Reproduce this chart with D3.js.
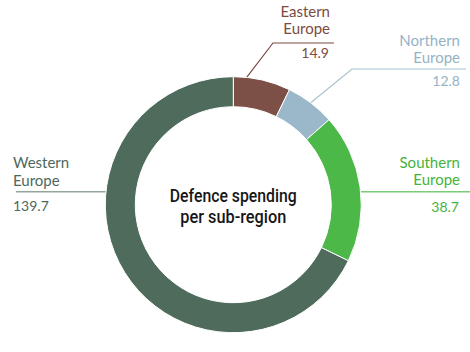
<!DOCTYPE html>
<html>
<head>
<meta charset="utf-8">
<script src="https://cdn.jsdelivr.net/npm/d3@7"></script>
<style>
  html, body { margin: 0; padding: 0; background: #fff; }
  svg { display: block; }
  .lbl { font-family: "Lato", "Liberation Sans", sans-serif; font-size: 15px; }
  .val { font-family: "Lato", "Liberation Sans", sans-serif; font-size: 14px; }
  .center { font-family: "Roboto", "Liberation Sans", sans-serif; font-size: 18.5px; font-weight: 500; fill: #161616; }
</style>
</head>
<body>
<svg id="chart" width="470" height="352"></svg>
<script>
// ---- data ----
const categories = ["Eastern Europe", "Northern Europe", "Southern Europe", "Western Europe"];
const values = [14.9, 12.8, 38.7, 139.7];
const valueLabels = ["14.9", "12.8", "38.7", "139.7"];
const sliceColors = ["#7c4f47", "#9bb8ca", "#4cb848", "#4e6b5c"];
const textColors = ["#7a4b42", "#95b3c6", "#45b341", "#4d695c"];
const lineColors = ["#7a4b42", "#a9c2d1", "#7ccb78", "#93a69c"];
const centerTitle = ["Defence spending", "per sub-region"];

// ---- layout ----
const svg = d3.select("#chart");
const cx = 233.3, cy = 204.7, rOuter = 128, rInner = 98;

const pie = d3.pie().sort(null).value(d => d)
  .startAngle(0).endAngle(2 * Math.PI);
const arcs = pie(values);
const arc = d3.arc().innerRadius(rInner).outerRadius(rOuter);

const layouts = [
  { anchor: "end", x: 330, y1: 17, y2: 34, vy: 58, vx: 329, ruleY: 43, ruleX1: 273, ruleX2: 334, kind: "diag", frac: 0.23 },
  { anchor: "end", x: 460, y1: 45.7, y2: 62.7, vy: 86, vx: 460, ruleY: 69, ruleX1: 352, ruleX2: 466, kind: "diag", frac: 0.5 },
  { anchor: "end", x: 460, y1: 168, y2: 185, vy: 211.5, vx: 459, ruleY: 191.7, ruleX2: 470, kind: "hr" },
  { anchor: "start", x: 13, y1: 168.3, y2: 185.7, vy: 210.7, vx: 13, ruleY: 191.7, ruleX1: 16, kind: "hl" }
];

const g = svg.append("g");

layouts.forEach((L, i) => {
  const c = lineColors[i];
  if (L.kind === "diag") {
    const a = arcs[i].startAngle + (arcs[i].endAngle - arcs[i].startAngle) * L.frac;
    const px = cx + rOuter * Math.sin(a), py = cy - rOuter * Math.cos(a);
    g.append("polyline")
      .attr("points", [[L.ruleX2, L.ruleY], [L.ruleX1, L.ruleY], [px, py]].map(p => p.join(",")).join(" "))
      .attr("fill", "none").attr("stroke", c).attr("stroke-width", 1.2);
  } else {
    const dy = L.ruleY - cy;
    const dx = Math.sqrt(rOuter * rOuter - dy * dy);
    const edge = L.kind === "hl" ? cx - dx : cx + dx;
    const x1 = L.kind === "hl" ? L.ruleX1 : edge;
    const x2 = L.kind === "hl" ? edge : L.ruleX2;
    g.append("line").attr("x1", x1).attr("x2", x2).attr("y1", L.ruleY).attr("y2", L.ruleY)
      .attr("stroke", c).attr("stroke-width", 1.6);
  }
});

svg.append("g").attr("transform", `translate(${cx},${cy})`)
  .selectAll("path").data(arcs).join("path")
  .attr("d", arc)
  .attr("fill", (d, i) => sliceColors[i])
  .attr("stroke", "#fff").attr("stroke-width", 1);

layouts.forEach((L, i) => {
  const words = categories[i].split(" ");
  const t = svg.append("text").attr("class", "lbl").attr("text-anchor", L.anchor).attr("fill", textColors[i]);
  t.append("tspan").attr("x", L.x).attr("y", L.y1).text(words[0]);
  t.append("tspan").attr("x", L.x).attr("y", L.y2).text(words[1]);
  svg.append("text").attr("class", "val").attr("text-anchor", L.anchor)
    .attr("x", L.vx).attr("y", L.vy).attr("fill", textColors[i]).text(valueLabels[i]);
});

const ctWidths = [127, 106];
const ctY = [201.7, 223.3];
centerTitle.forEach((s, k) => {
  svg.append("text").attr("class", "center").attr("text-anchor", "middle")
    .attr("x", cx).attr("y", ctY[k])
    .attr("textLength", ctWidths[k]).attr("lengthAdjust", "spacingAndGlyphs")
    .text(s);
});
</script>
</body>
</html>
